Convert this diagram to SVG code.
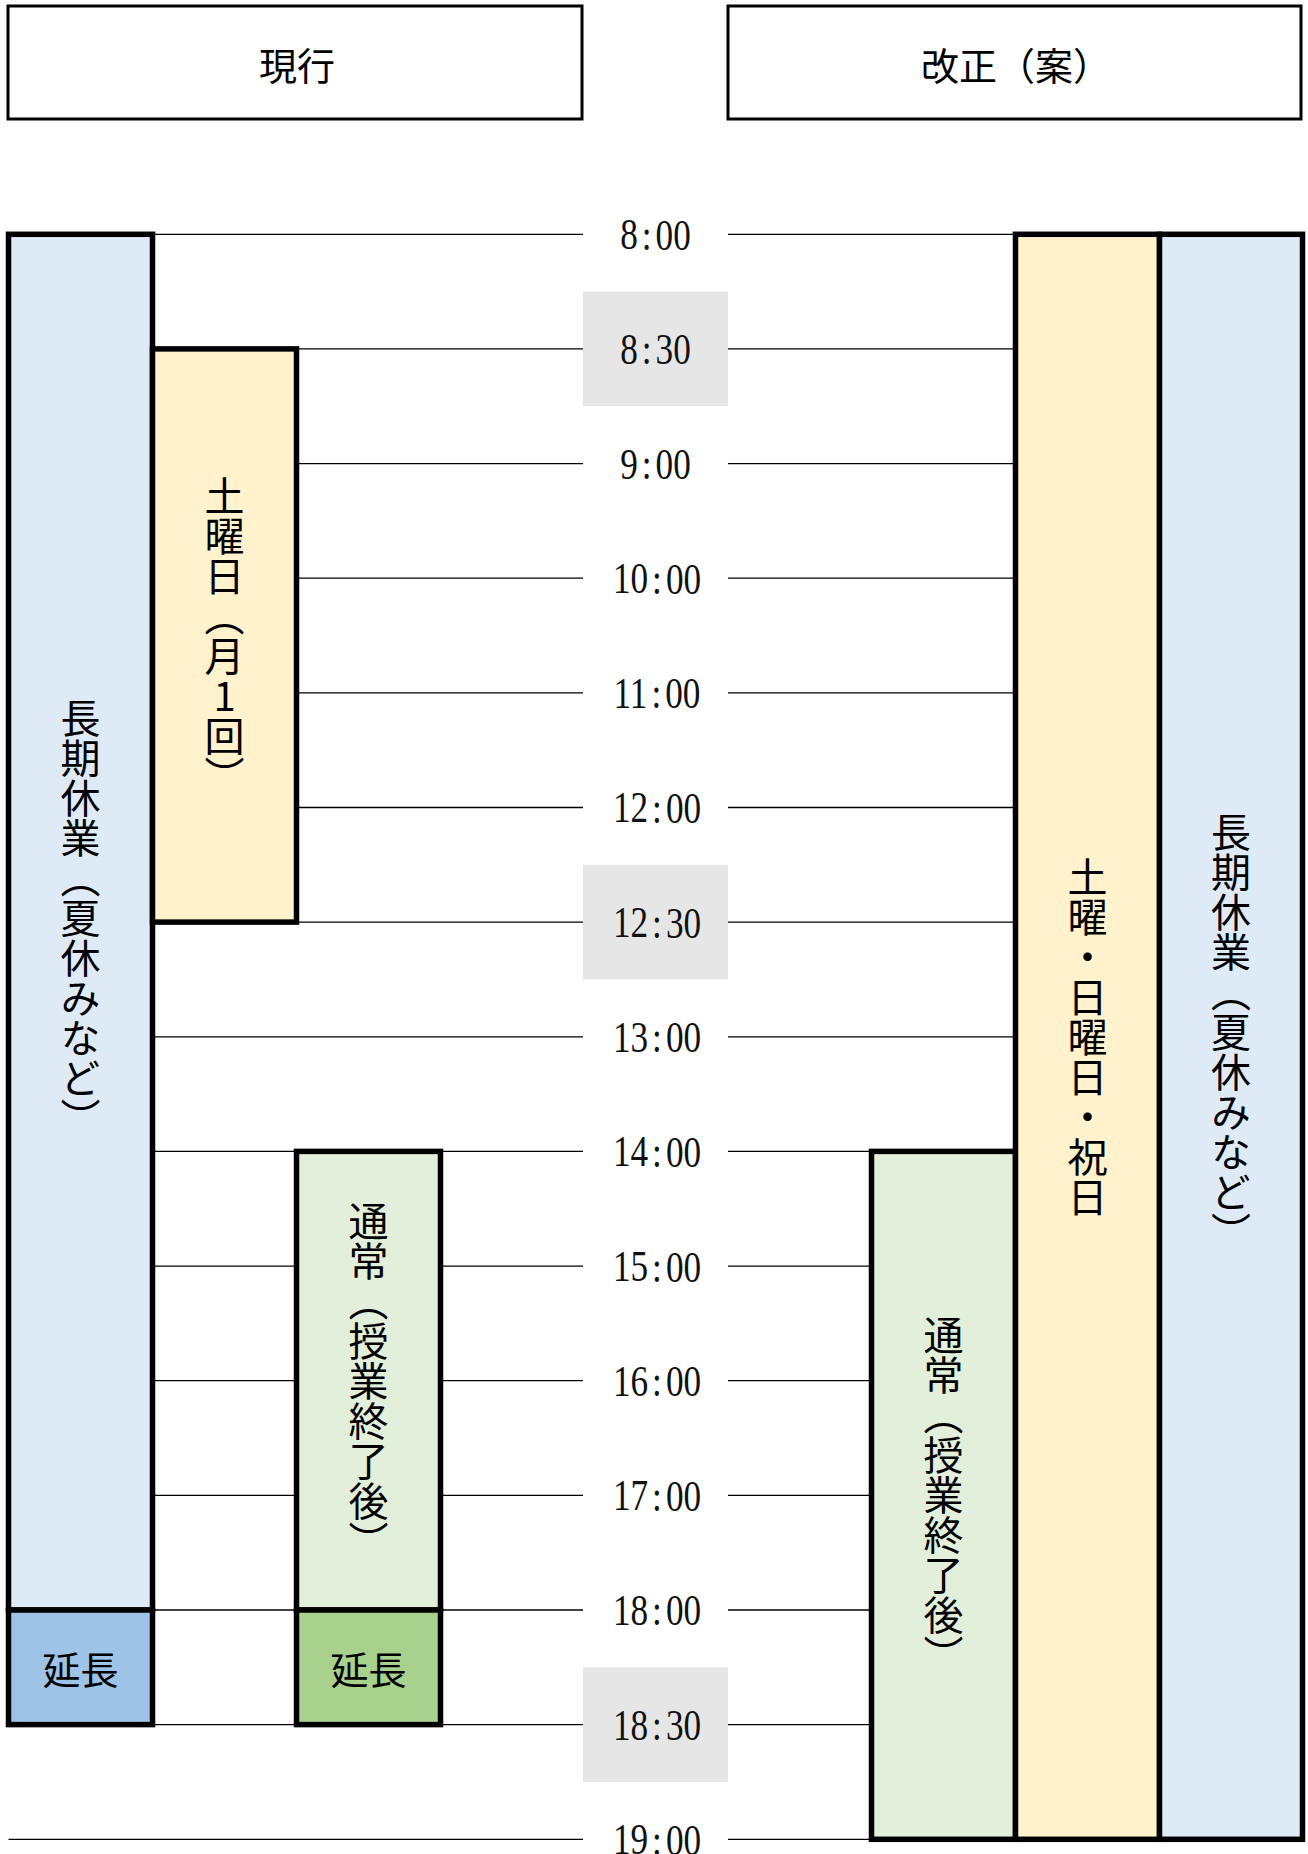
<svg xmlns="http://www.w3.org/2000/svg" width="1308" height="1854" viewBox="0 0 1308 1854">
<style>
.hdr{fill:#fff;stroke:#000;stroke-width:3}
.box{stroke:#000;stroke-width:5.5}
.blue{fill:#deebf7}.yel{fill:#fff2cc}.grn{fill:#e2efda}.blue2{fill:#9dc3e6}.grn2{fill:#a9d18e}
.gray{fill:#e7e6e6}
.grid line{stroke:#000;stroke-width:1.3}
.jp{font-family:"Noto Sans CJK JP","Noto Sans",sans-serif;fill:#000}
.ht{font-size:38px;text-anchor:middle;dominant-baseline:central}
.lt{font-size:38px;text-anchor:middle;dominant-baseline:central}
.vt{font-size:40px;writing-mode:vertical-rl;text-anchor:middle;text-orientation:upright}
.tm{font-family:"Liberation Serif",serif;font-size:44px;text-anchor:middle;dominant-baseline:central;fill:#111}
</style>
<rect width="1308" height="1854" fill="#fff"/>
<g id="header-current"><rect class="hdr" x="8" y="6" width="574" height="113"/><text class="jp ht" x="297" y="63">現行</text></g>
<g id="header-revised"><rect class="hdr" x="728" y="6" width="573" height="113"/><text class="jp ht" x="1016" y="63">改正（案）</text></g>
<g id="time-bg">
<rect class="gray" x="583" y="291.6" width="145" height="114.6"/>
<rect class="gray" x="583" y="864.8" width="145" height="114.6"/>
<rect class="gray" x="583" y="1667.3" width="145" height="114.6"/>
</g>
<g id="connectors" class="grid">
<line x1="8.5" y1="234.3" x2="583" y2="234.3"/><line x1="728" y1="234.3" x2="1303" y2="234.3"/>
<line x1="8.5" y1="348.9" x2="583" y2="348.9"/><line x1="728" y1="348.9" x2="1303" y2="348.9"/>
<line x1="8.5" y1="463.6" x2="583" y2="463.6"/><line x1="728" y1="463.6" x2="1303" y2="463.6"/>
<line x1="8.5" y1="578.2" x2="583" y2="578.2"/><line x1="728" y1="578.2" x2="1303" y2="578.2"/>
<line x1="8.5" y1="692.9" x2="583" y2="692.9"/><line x1="728" y1="692.9" x2="1303" y2="692.9"/>
<line x1="8.5" y1="807.5" x2="583" y2="807.5"/><line x1="728" y1="807.5" x2="1303" y2="807.5"/>
<line x1="8.5" y1="922.1" x2="583" y2="922.1"/><line x1="728" y1="922.1" x2="1303" y2="922.1"/>
<line x1="8.5" y1="1036.8" x2="583" y2="1036.8"/><line x1="728" y1="1036.8" x2="1303" y2="1036.8"/>
<line x1="8.5" y1="1151.4" x2="583" y2="1151.4"/><line x1="728" y1="1151.4" x2="1303" y2="1151.4"/>
<line x1="8.5" y1="1266.1" x2="583" y2="1266.1"/><line x1="728" y1="1266.1" x2="1303" y2="1266.1"/>
<line x1="8.5" y1="1380.7" x2="583" y2="1380.7"/><line x1="728" y1="1380.7" x2="1303" y2="1380.7"/>
<line x1="8.5" y1="1495.3" x2="583" y2="1495.3"/><line x1="728" y1="1495.3" x2="1303" y2="1495.3"/>
<line x1="8.5" y1="1610" x2="583" y2="1610"/><line x1="728" y1="1610" x2="1303" y2="1610"/>
<line x1="8.5" y1="1724.6" x2="583" y2="1724.6"/><line x1="728" y1="1724.6" x2="1303" y2="1724.6"/>
<line x1="8.5" y1="1839.3" x2="583" y2="1839.3"/><line x1="728" y1="1839.3" x2="1303" y2="1839.3"/>
</g>
<g id="time-labels">
<text class="tm" transform="translate(655.5 234.3) scale(0.8 1)">8<tspan dx="5">:</tspan><tspan dx="5">00</tspan></text>
<text class="tm" transform="translate(655.5 348.9) scale(0.8 1)">8<tspan dx="5">:</tspan><tspan dx="5">30</tspan></text>
<text class="tm" transform="translate(655.5 463.6) scale(0.8 1)">9<tspan dx="5">:</tspan><tspan dx="5">00</tspan></text>
<text class="tm" transform="translate(657 578.2) scale(0.8 1)">10<tspan dx="5">:</tspan><tspan dx="5">00</tspan></text>
<text class="tm" transform="translate(657 692.9) scale(0.8 1)">11<tspan dx="5">:</tspan><tspan dx="5">00</tspan></text>
<text class="tm" transform="translate(657 807.5) scale(0.8 1)">12<tspan dx="5">:</tspan><tspan dx="5">00</tspan></text>
<text class="tm" transform="translate(657 922.1) scale(0.8 1)">12<tspan dx="5">:</tspan><tspan dx="5">30</tspan></text>
<text class="tm" transform="translate(657 1036.8) scale(0.8 1)">13<tspan dx="5">:</tspan><tspan dx="5">00</tspan></text>
<text class="tm" transform="translate(657 1151.4) scale(0.8 1)">14<tspan dx="5">:</tspan><tspan dx="5">00</tspan></text>
<text class="tm" transform="translate(657 1266.1) scale(0.8 1)">15<tspan dx="5">:</tspan><tspan dx="5">00</tspan></text>
<text class="tm" transform="translate(657 1380.7) scale(0.8 1)">16<tspan dx="5">:</tspan><tspan dx="5">00</tspan></text>
<text class="tm" transform="translate(657 1495.3) scale(0.8 1)">17<tspan dx="5">:</tspan><tspan dx="5">00</tspan></text>
<text class="tm" transform="translate(657 1610) scale(0.8 1)">18<tspan dx="5">:</tspan><tspan dx="5">00</tspan></text>
<text class="tm" transform="translate(657 1724.6) scale(0.8 1)">18<tspan dx="5">:</tspan><tspan dx="5">30</tspan></text>
<text class="tm" transform="translate(657 1839.3) scale(0.8 1)">19<tspan dx="5">:</tspan><tspan dx="5">00</tspan></text>
</g>
<g id="cur-long-holiday"><rect class="box blue" x="8.5" y="234.3" width="144" height="1375.7"/><text class="jp vt" x="80.5" y="918">長期休業（夏休みなど）</text></g>
<g id="cur-long-holiday-ext"><rect class="box blue2" x="8.5" y="1610" width="144" height="114.6"/><text class="jp lt" x="80.5" y="1667.3">延長</text></g>
<g id="cur-saturday"><rect class="box yel" x="152.5" y="348.9" width="144" height="573.2"/><text class="jp vt" x="224.5" y="635.5">土曜日（月1回）</text></g>
<g id="cur-regular"><rect class="box grn" x="296.5" y="1151.4" width="144" height="458.6"/><text class="jp vt" x="368.5" y="1380.7">通常（授業終了後）</text></g>
<g id="cur-regular-ext"><rect class="box grn2" x="296.5" y="1610" width="144" height="114.6"/><text class="jp lt" x="368.5" y="1667.3">延長</text></g>
<g id="new-regular"><rect class="box grn" x="871.5" y="1151.4" width="144" height="687.9"/><text class="jp vt" x="943.5" y="1495">通常（授業終了後）</text></g>
<g id="new-weekend"><rect class="box yel" x="1015.5" y="234.3" width="144" height="1605"/><text class="jp vt" x="1087.5" y="1036.8">土曜・日曜日・祝日</text></g>
<g id="new-long-holiday"><rect class="box blue" x="1159.5" y="234.3" width="143" height="1605"/><text class="jp vt" x="1231" y="1032">長期休業（夏休みなど）</text></g>
</svg>
